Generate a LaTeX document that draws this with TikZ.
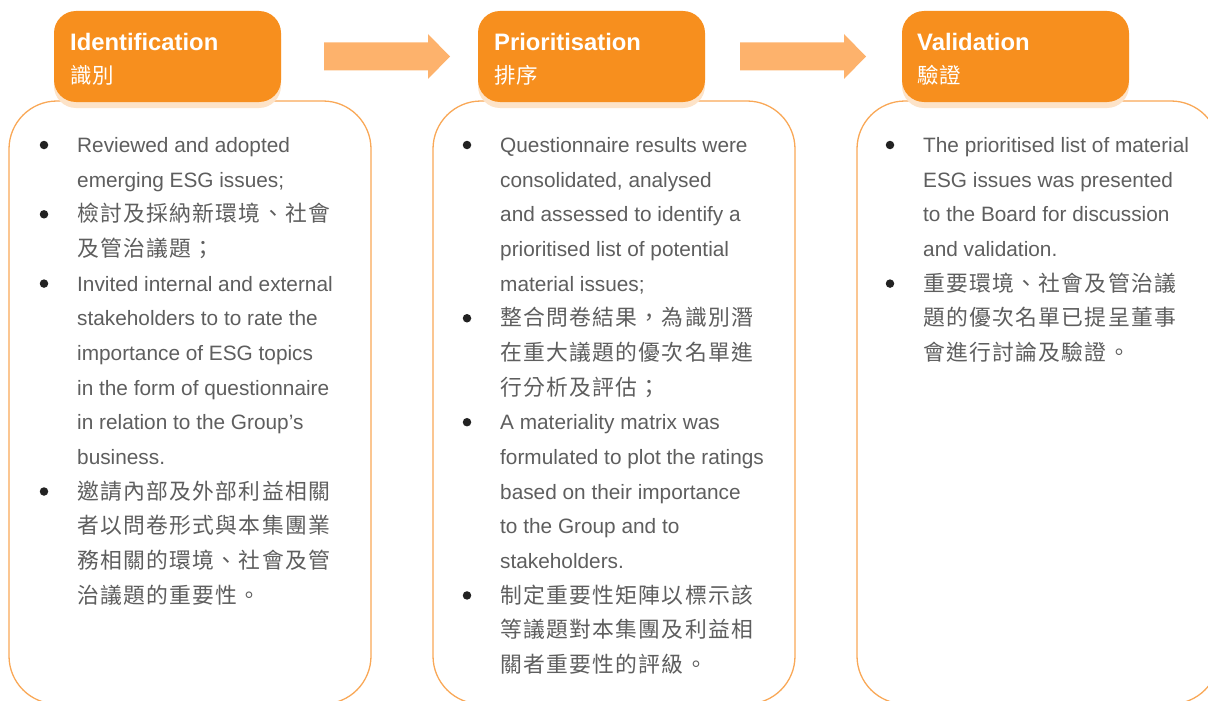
\documentclass[tikz,border=0pt]{standalone}
\usepackage{fontspec}
\setmainfont{Liberation Sans}
\newfontfamily\zhfam[LetterSpace=6]{Noto Sans CJK TC}
\newfontfamily\zhhfam[LetterSpace=4]{Noto Sans CJK TC}
\definecolor{hdrorange}{HTML}{F78F1E}
\definecolor{hdrshadow}{HTML}{FDE3C8}
\definecolor{arrorange}{HTML}{FDB26C}
\definecolor{boxorange}{HTML}{F9A857}
\definecolor{txtgray}{HTML}{5E5E5E}
\definecolor{bulgray}{HTML}{222222}
\tikzset{
  en/.style={anchor=base west, inner sep=0pt, text=txtgray, font=\fontsize{20.8}{24}\selectfont},
  zh/.style={anchor=base west, inner sep=0pt, text=txtgray, font=\zhfam\fontsize{21.8}{24}\selectfont},
  bul/.style={circle, fill=bulgray, inner sep=0pt, minimum size=8.5pt},
  hdr/.style={fill=hdrorange, rounded corners=22pt},
  hdrsh/.style={fill=hdrshadow, rounded corners=22pt},
  cbox/.style={draw=boxorange, line width=1.3pt, fill=white, rounded corners=48pt},
  htitle/.style={anchor=base west, inner sep=0pt, text=white, font=\bfseries\fontsize{23.8}{26}\selectfont},
  hzh/.style={anchor=base west, inner sep=0pt, text=white, font=\zhhfam\fontsize{21.5}{24}\selectfont},
  flowarrow/.style={fill=arrorange}
}
\begin{document}
\begin{tikzpicture}[x=1pt, y=-1pt]
\useasboundingbox (0,0) rectangle (1208,701);
\clip (0,0) rectangle (1208,701);
% content boxes
\foreach \dx/\n in {0/1, 424/2, 848/3}{
  \draw[cbox] ({9+\dx},101) rectangle ({371+\dx},704);
  \fill[hdrsh] ({54+\dx},17) rectangle ({281+\dx},108);
  \fill[hdr] ({54+\dx},11) rectangle ({281+\dx},102);
}
% header titles
\node[htitle] (h1) at (70,50.5) {Identification};
\node[hzh] (h1z) at (70,84) {識別};
\node[htitle] (h2) at (494,50.5) {Prioritisation};
\node[hzh] (h2z) at (494,84) {排序};
\node[htitle] (h3) at (917,50.5) {Validation};
\node[hzh] (h3z) at (917,84) {驗證};
% flow arrows
\fill[flowarrow] (324,42.5) -- (428,42.5) -- (428,34) -- (450,56.5) -- (428,79) -- (428,70.5) -- (324,70.5) -- cycle;
\fill[flowarrow] (740,42.5) -- (844,42.5) -- (844,34) -- (866,56.5) -- (844,79) -- (844,70.5) -- (740,70.5) -- cycle;
% column 1
\foreach \f/\txt/\b [count=\i] in {
  en/{Reviewed and adopted}/1,
  en/{emerging ESG issues;}/0,
  zh/{檢討及採納新環境、社會}/1,
  zh/{及管治議題；}/0,
  en/{Invited internal and external}/1,
  en/{stakeholders to to rate the}/0,
  en/{importance of ESG topics}/0,
  en/{in the form of questionnaire}/0,
  en/{in relation to the Group’s}/0,
  en/{business.}/0,
  zh/{邀請內部及外部利益相關}/1,
  zh/{者以問卷形式與本集團業}/0,
  zh/{務相關的環境、社會及管}/0,
  zh/{治議題的重要性。}/0}{
  \node[\f] (c1l\i) at (77,{152.6+34.65*(\i-1)}) {\txt};
  \ifnum\b=1 \node[bul] (c1b\i) at (44,{145+34.65*(\i-1)}) {};\fi
}
% column 2
\foreach \f/\txt/\b [count=\i] in {
  en/{Questionnaire results were}/1,
  en/{consolidated, analysed}/0,
  en/{and assessed to identify a}/0,
  en/{prioritised list of potential}/0,
  en/{material issues;}/0,
  zh/{整合問卷結果，為識別潛}/1,
  zh/{在重大議題的優次名單進}/0,
  zh/{行分析及評估；}/0,
  en/{A materiality matrix was}/1,
  en/{formulated to plot the ratings}/0,
  en/{based on their importance}/0,
  en/{to the Group and to}/0,
  en/{stakeholders.}/0,
  zh/{制定重要性矩陣以標示該}/1,
  zh/{等議題對本集團及利益相}/0,
  zh/{關者重要性的評級。}/0}{
  \node[\f] (c2l\i) at (500,{152.6+34.65*(\i-1)}) {\txt};
  \ifnum\b=1 \node[bul] (c2b\i) at (467,{145+34.65*(\i-1)}) {};\fi
}
% column 3
\foreach \f/\txt/\b [count=\i] in {
  en/{The prioritised list of material}/1,
  en/{ESG issues was presented}/0,
  en/{to the Board for discussion}/0,
  en/{and validation.}/0,
  zh/{重要環境、社會及管治議}/1,
  zh/{題的優次名單已提呈董事}/0,
  zh/{會進行討論及驗證。}/0}{
  \node[\f] (c3l\i) at (923,{152.6+34.65*(\i-1)}) {\txt};
  \ifnum\b=1 \node[bul] (c3b\i) at (890,{145+34.65*(\i-1)}) {};\fi
}
\end{tikzpicture}
\end{document}
